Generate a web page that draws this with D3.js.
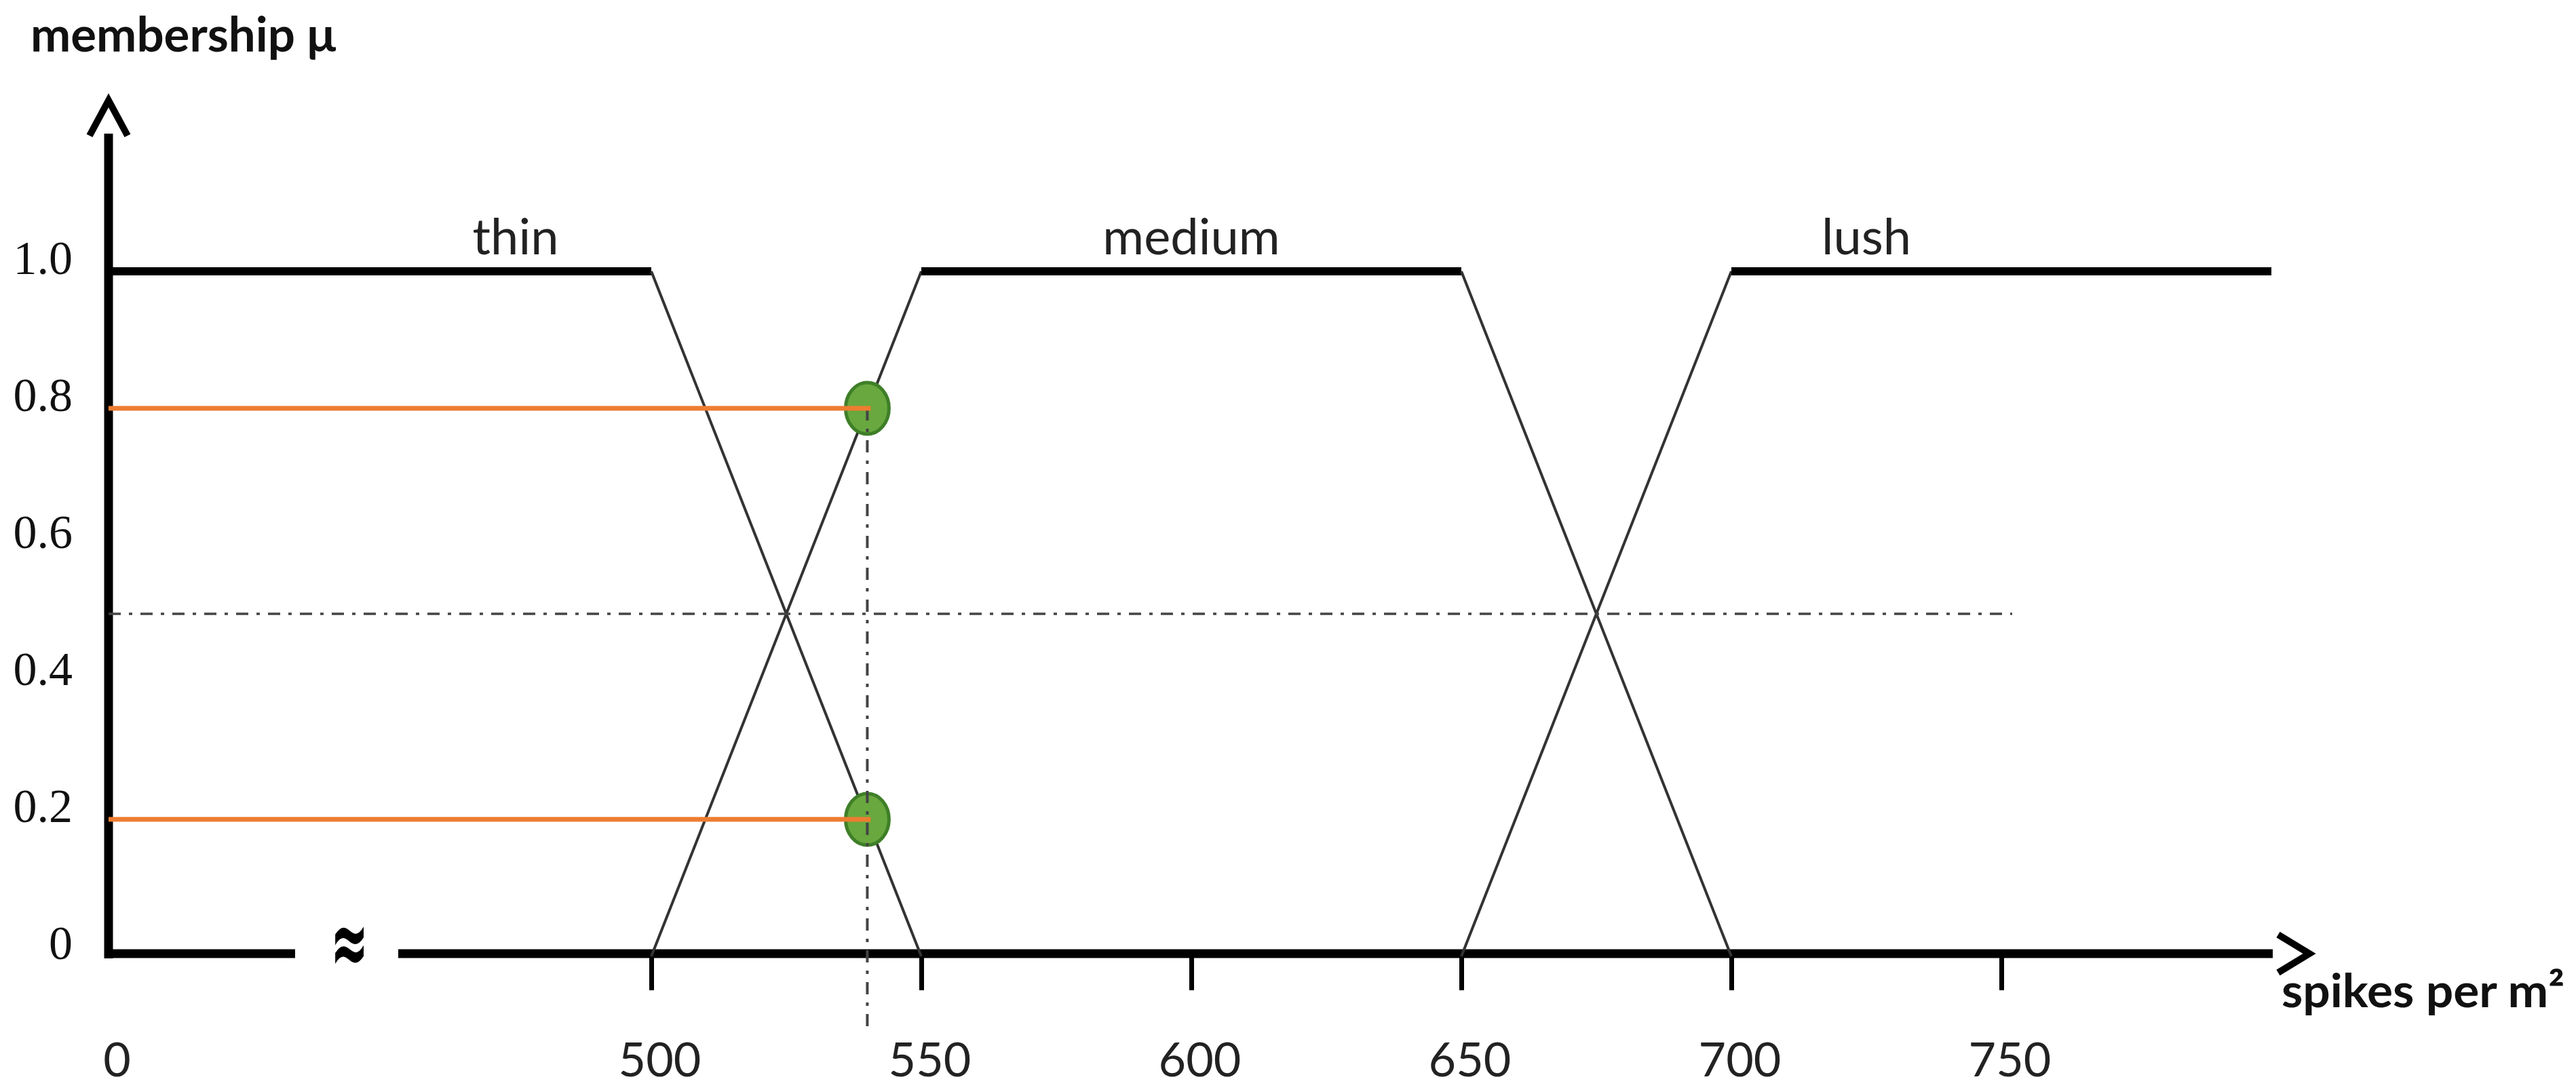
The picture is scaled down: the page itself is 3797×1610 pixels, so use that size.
<!DOCTYPE html>
<html>
<head>
<meta charset="utf-8">
<script src="https://cdnjs.cloudflare.com/ajax/libs/d3/7.8.5/d3.min.js"></script>
<style>
  body { margin: 0; background: #fff; }
  svg { display: block; }
</style>
</head>
<body>
<div id="chart"></div>
<script>
// fuzzy sets: [spikes per m2, membership]
const setNames = ["thin", "medium", "lush"];
const thinPoints = [[0, 1], [500, 1], [550, 0]];
const mediumPoints = [[500, 0], [550, 1], [650, 1], [700, 0]];
const lushPoints = [[650, 0], [700, 1], [800, 1]];
const labelValues = [375, 600, 725];

const xTickValues = [0, 500, 550, 600, 650, 700, 750];
const yTickValues = [0, 0.2, 0.4, 0.6, 0.8, 1.0];
const yTickLabels = ["0", "0.2", "0.4", "0.6", "0.8", "1.0"];

// the crisp input and its memberships
const inputValue = 540;
const inputMemberships = [0.8, 0.2];
const crossLevel = 0.5;
const crossEnd = 752;

const svgWidth = 3797;
const svgHeight = 1610;

const svg = d3.select("#chart")
    .append("svg")
    .attr("width", svgWidth)
    .attr("height", svgHeight);

svg.append("rect").attr("width", svgWidth).attr("height", svgHeight).attr("fill", "#fff");

// broken x scale: 0 sits at the origin, then 500..800
const x = d3.scaleLinear()
    .domain([0, 500, 800])
    .range([160, 960, 3348]);

const y = d3.scaleLinear()
    .domain([0, 1])
    .range([1410, 400]);

const axisY = 1406;
const sans = "Lato, 'Open Sans', sans-serif";

// ---- x ticks + labels
const xAxis = svg.append("g")
    .attr("transform", `translate(0, ${axisY})`)
    .call(d3.axisBottom(x).tickValues(xTickValues).tickSize(54).tickPadding(77).tickFormat(d3.format("d")));
xAxis.select(".domain").remove();
xAxis.selectAll(".tick line").attr("stroke", "#000").attr("stroke-width", 7);
xAxis.selectAll(".tick").filter(d => d === 0).select("line").remove();
xAxis.selectAll(".tick text")
    .attr("font-family", sans)
    .attr("font-size", 70)
    .attr("fill", "#222")
    .attr("dx", 12);

// ---- y tick labels
const yAxis = svg.append("g")
    .attr("transform", "translate(160, 0)")
    .call(d3.axisLeft(y).tickValues(yTickValues).tickSize(0).tickPadding(53)
        .tickFormat((d, i) => yTickLabels[i]));
yAxis.select(".domain").remove();
yAxis.selectAll(".tick text")
    .attr("font-family", "'Liberation Serif', 'Times New Roman', serif")
    .attr("font-size", 70)
    .attr("fill", "#111")
    .attr("dy", "0.05em");

// ---- axis lines (x axis has a break)
svg.append("line")
    .attr("x1", 160).attr("x2", 160)
    .attr("y1", 197).attr("y2", axisY + 7)
    .attr("stroke", "#000").attr("stroke-width", 13);
svg.append("line")
    .attr("x1", 154).attr("x2", 435)
    .attr("y1", axisY).attr("y2", axisY)
    .attr("stroke", "#000").attr("stroke-width", 13);
svg.append("line")
    .attr("x1", 587).attr("x2", 3350)
    .attr("y1", axisY).attr("y2", axisY)
    .attr("stroke", "#000").attr("stroke-width", 13);

svg.append("text")
    .attr("x", 515).attr("y", axisY + 30)
    .attr("text-anchor", "middle")
    .attr("font-family", "'DejaVu Sans', sans-serif")
    .attr("font-weight", "bold")
    .attr("font-size", 135)
    .attr("textLength", 56)
    .attr("lengthAdjust", "spacingAndGlyphs")
    .text("≈");

// arrow heads
svg.append("path")
    .attr("d", "M132,200 L160,148 L188,200")
    .attr("fill", "none").attr("stroke", "#000").attr("stroke-width", 10);
svg.append("path")
    .attr("d", `M3358,${axisY - 28} L3404,${axisY} L3358,${axisY + 28}`)
    .attr("fill", "none").attr("stroke", "#000").attr("stroke-width", 10);

// axis titles
svg.append("text")
    .attr("x", 45).attr("y", 76)
    .attr("font-family", sans).attr("font-weight", "bold")
    .attr("font-size", 70).attr("fill", "#111")
    .attr("textLength", 450).attr("lengthAdjust", "spacingAndGlyphs")
    .text("membership μ");
svg.append("text")
    .attr("x", 3363).attr("y", 1485)
    .attr("font-family", sans).attr("font-weight", "bold")
    .attr("font-size", 68).attr("fill", "#111")
    .attr("textLength", 417).attr("lengthAdjust", "spacingAndGlyphs")
    .text("spikes per m²");

// ---- membership functions: plateaus thick, slopes thin
const sets = [thinPoints, mediumPoints, lushPoints];
const segments = [];
sets.forEach(pts => {
    d3.pairs(pts).forEach(([a, b]) => segments.push({a, b, flat: a[1] === 1 && b[1] === 1}));
});

svg.append("g").selectAll("line")
    .data(segments)
    .join("line")
    .attr("x1", d => x(d.a[0])).attr("y1", d => y(d.a[1]))
    .attr("x2", d => x(d.b[0])).attr("y2", d => y(d.b[1]))
    .attr("stroke", d => d.flat ? "#000" : "#333")
    .attr("stroke-width", d => d.flat ? 12 : 4);

svg.append("g").selectAll("text")
    .data(setNames)
    .join("text")
    .attr("x", (d, i) => x(labelValues[i]))
    .attr("y", 375)
    .attr("text-anchor", "middle")
    .attr("font-family", sans)
    .attr("font-size", 74)
    .attr("fill", "#222")
    .text(d => d);

// ---- dash-dot helper lines
const dashDot = "18,12,5,12";
svg.append("line")
    .attr("x1", x(0)).attr("x2", x(crossEnd))
    .attr("y1", y(crossLevel)).attr("y2", y(crossLevel))
    .attr("stroke", "#444").attr("stroke-width", 3.5)
    .attr("stroke-dasharray", dashDot);

// ---- membership points
svg.append("g").selectAll("ellipse")
    .data(inputMemberships)
    .join("ellipse")
    .attr("cx", x(inputValue))
    .attr("cy", d => y(d))
    .attr("rx", 32).attr("ry", 38)
    .attr("fill", "#68a83e")
    .attr("stroke", "#3f7f28")
    .attr("stroke-width", 5);

svg.append("line")
    .attr("x1", x(inputValue)).attr("x2", x(inputValue))
    .attr("y1", y(d3.max(inputMemberships))).attr("y2", 1520)
    .attr("stroke", "#444").attr("stroke-width", 4)
    .attr("stroke-dasharray", dashDot);

svg.append("g").selectAll("line")
    .data(inputMemberships)
    .join("line")
    .attr("x1", x(0)).attr("x2", x(inputValue) + 5)
    .attr("y1", d => y(d)).attr("y2", d => y(d))
    .attr("stroke", "#ed7d31")
    .attr("stroke-width", 7);
</script>
</body>
</html>
